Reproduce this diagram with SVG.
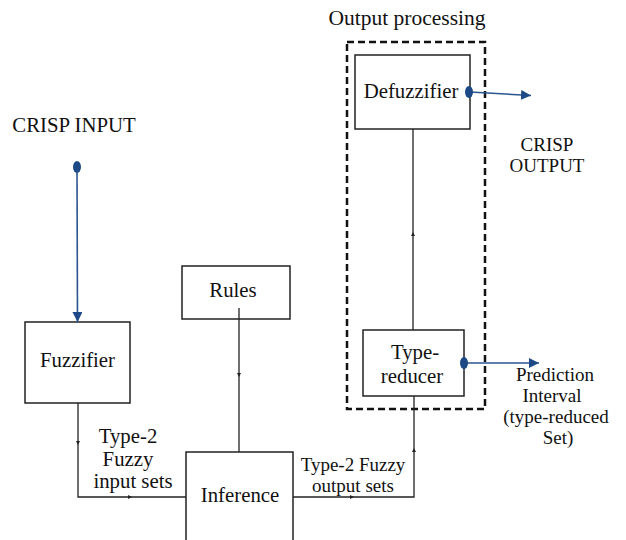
<svg xmlns="http://www.w3.org/2000/svg" width="626" height="540" viewBox="0 0 626 540">
  <style>
    text { font-family: "Liberation Serif", "Times New Roman", serif; font-size: 20.8px; fill: #111; }
    .c { text-anchor: middle; }
    .s { font-size: 19px; }
    .box { fill: #fff; stroke: #222; stroke-width: 1.5; }
    .wire { fill: none; stroke: #222; stroke-width: 1.3; }
    .sig { fill: none; stroke: #2a5590; stroke-width: 1.6; }
    .dot { fill: #1d4a86; }
  </style>
  <defs>
    <marker id="tiny" viewBox="0 0 10 10" refX="5" refY="5" markerWidth="4" markerHeight="4" orient="auto" markerUnits="userSpaceOnUse">
      <path d="M0,0 L10,5 L0,10 z" fill="#222"/>
    </marker>
    <marker id="blue" viewBox="0 0 10 10" refX="10" refY="5" markerWidth="10" markerHeight="10" orient="auto" markerUnits="userSpaceOnUse">
      <path d="M0,0 L10,5 L0,10 z" fill="#1d4a86"/>
    </marker>
  </defs>

  <rect width="626" height="540" fill="#fff"/>

  <!-- free labels -->
  <text x="407" y="25" class="c" style="font-size:21.5px">Output processing</text>
  <text x="74" y="132" class="c">CRISP INPUT</text>
  <text x="547" y="150.5" class="c s">CRISP</text>
  <text x="547" y="171.5" class="c s">OUTPUT</text>
  <text x="128" y="443" class="c">Type-2</text>
  <text x="128" y="466" class="c">Fuzzy</text>
  <text x="133" y="488" class="c">input sets</text>
  <text x="353" y="470.5" class="c s">Type-2 Fuzzy</text>
  <text x="353" y="491.5" class="c s">output sets</text>
  <text x="555" y="381" class="c s">Prediction</text>
  <text x="552" y="402" class="c s">Interval</text>
  <text x="556" y="423" class="c s">(type-reduced</text>
  <text x="558" y="444" class="c s">Set)</text>

  <!-- output processing frame -->
  <rect id="output-processing" x="347" y="42" width="138" height="367" fill="none" stroke="#111" stroke-width="2.5" stroke-dasharray="7 4"/>

  <g id="fuzzifier">
    <rect class="box" x="25" y="322" width="105" height="81"/>
    <text x="77.5" y="367" class="c">Fuzzifier</text>
  </g>
  <g id="rules">
    <rect class="box" x="182" y="266" width="108" height="53"/>
    <text x="233" y="297" class="c">Rules</text>
  </g>
  <g id="inference">
    <rect class="box" x="186" y="452" width="107" height="100"/>
    <text x="240" y="502" class="c">Inference</text>
  </g>
  <g id="type-reducer">
    <rect class="box" x="363" y="330" width="101" height="66"/>
    <text x="415" y="359" class="c">Type-</text>
    <text x="412" y="383" class="c">reducer</text>
  </g>
  <g id="defuzzifier">
    <rect class="box" x="355" y="55" width="115" height="74"/>
    <text x="411" y="98" class="c">Defuzzifier</text>
  </g>

  <g id="connectors">
    <!-- crisp input into fuzzifier -->
    <ellipse class="dot" cx="77" cy="167" rx="4" ry="6"/>
    <line class="sig" x1="77" y1="170" x2="77.5" y2="322" marker-end="url(#blue)"/>
    <!-- fuzzifier to inference -->
    <path class="wire" d="M78,403 V443" marker-end="url(#tiny)"/>
    <path class="wire" d="M78,441 V497 H130" marker-end="url(#tiny)"/>
    <path class="wire" d="M128,497 H186"/>
    <!-- rules to inference -->
    <path class="wire" d="M239,308 V375" marker-end="url(#tiny)"/>
    <path class="wire" d="M239,373 V452"/>
    <!-- inference to type-reducer -->
    <path class="wire" d="M293,497 H352" marker-end="url(#tiny)"/>
    <path class="wire" d="M350,497 H414 V450" marker-end="url(#tiny)"/>
    <path class="wire" d="M414,452 V396"/>
    <!-- type-reducer to defuzzifier -->
    <path class="wire" d="M413,330 V234" marker-end="url(#tiny)"/>
    <path class="wire" d="M413,236 V129"/>
    <!-- crisp output -->
    <line class="sig" x1="470" y1="92" x2="531" y2="95.5" marker-end="url(#blue)"/>
    <ellipse class="dot" cx="469" cy="92" rx="4" ry="6"/>
    <!-- prediction interval -->
    <line class="sig" x1="464" y1="363" x2="539" y2="363" marker-end="url(#blue)" stroke-width="1.2"/>
    <ellipse class="dot" cx="464" cy="363" rx="4" ry="6"/>
  </g>
</svg>
